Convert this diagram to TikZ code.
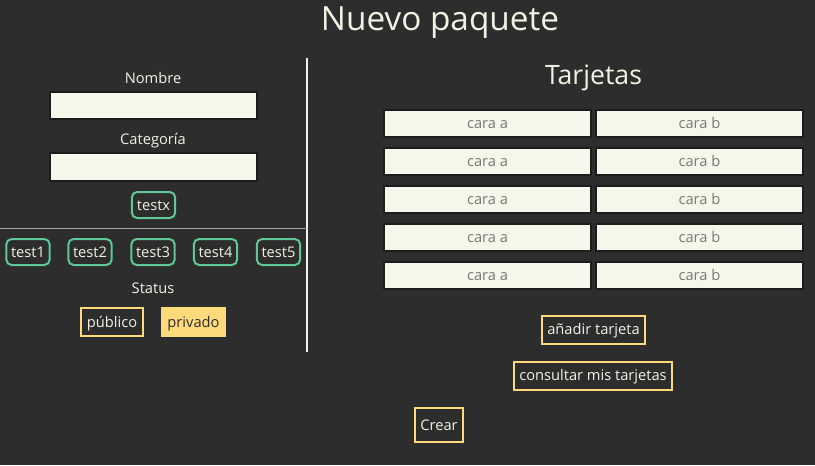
\documentclass[tikz,border=0pt]{standalone}
\usepackage{fontspec}
\setmainfont{Open Sans}
\usepackage{tikz}
\usetikzlibrary{positioning}

\definecolor{bgdark}{HTML}{2D2D2D}
\definecolor{cream}{HTML}{F2F2E4}
\definecolor{fieldfill}{HTML}{F4F7EA}
\definecolor{fieldline}{HTML}{1C1C1C}
\definecolor{mint}{HTML}{5FC896}
\definecolor{sand}{HTML}{FFDA7A}
\definecolor{hint}{HTML}{7A7A72}

\begin{document}
\begin{tikzpicture}[x=0.75pt,y=-0.75pt,
		font=\fontsize{11}{13}\selectfont,
		label/.style={text=cream},
		field/.style={draw=fieldline, line width=1.5pt, fill=fieldfill,
			minimum width=155pt, minimum height=20.5pt, inner sep=0pt,
			text height=9pt, text depth=1pt},
		card/.style={field, text=hint},
		tag/.style={draw=mint, line width=1.5pt, rounded corners=4pt, text=cream,
			minimum width=32.5pt, minimum height=19.5pt, inner sep=1pt,
			text height=9pt, text depth=1pt},
		option/.style={draw=sand, line width=1.5pt, text=cream,
			minimum height=21pt, inner sep=3pt, text height=9pt, text depth=1pt},
		picked/.style={fill=sand, text=bgdark, minimum height=22.5pt,
			minimum width=48.75pt, inner sep=3pt, text height=9pt, text depth=1pt}
	]
		\fill[bgdark] (0,0) rectangle (815,465);
		\useasboundingbox (0,0) rectangle (815,465);

		% titulos
		\node[label, font=\fontsize{25}{29}\selectfont] (title) at (440,23) {Nuevo paquete};
		\node[label, font=\fontsize{20}{24}\selectfont] (cards) at (593.5,78) {Tarjetas};

		% separadores
		\draw[cream, line width=1pt] (307,58) -- (307,352);
		\draw[gray!70, line width=0.6pt] (0,228) -- (307,228);

		% formulario
		\node[label] (nombre) at (153,78) {Nombre};
		\node[field] (nombrein) at (153.5,105.5) {};
		\node[label] (categoria) at (153,141) {Categoría};
		\node[field] (categoriain) at (153.5,167) {};
		\node[tag] (testx) at (153.5,205) {testx};

		\node[tag] (test1) at (28,252) {test1};
		\node[tag] (test2) at (90,252) {test2};
		\node[tag] (test3) at (153,252) {test3};
		\node[tag] (test4) at (215.5,252) {test4};
		\node[tag] (test5) at (278.5,252) {test5};

		\node[label] (status) at (153,288) {Status};
		\node[option, minimum width=46.5pt] (publico) at (112,322) {público};
		\node[picked] (privado) at (193.5,322) {privado};

		% tarjetas
		\node[card] (a1) at (487.5,123.5) {cara a};
		\node[card] (b1) at (699.5,123.5) {cara b};
		\node[card] (a2) at (487.5,161.5) {cara a};
		\node[card] (b2) at (699.5,161.5) {cara b};
		\node[card] (a3) at (487.5,199.5) {cara a};
		\node[card] (b3) at (699.5,199.5) {cara b};
		\node[card] (a4) at (487.5,237.5) {cara a};
		\node[card] (b4) at (699.5,237.5) {cara b};
		\node[card] (a5) at (487.5,275.5) {cara a};
		\node[card] (b5) at (699.5,275.5) {cara b};

		% botones
		\node[option, minimum width=77.5pt] (add) at (593.5,329.5) {añadir tarjeta};
		\node[option, minimum width=118.5pt] (consult) at (593,375.5) {consultar mis tarjetas};
		\node[option, minimum width=36pt, minimum height=25.5pt] (crear) at (439,425) {Crear};

	\end{tikzpicture}
\end{document}
